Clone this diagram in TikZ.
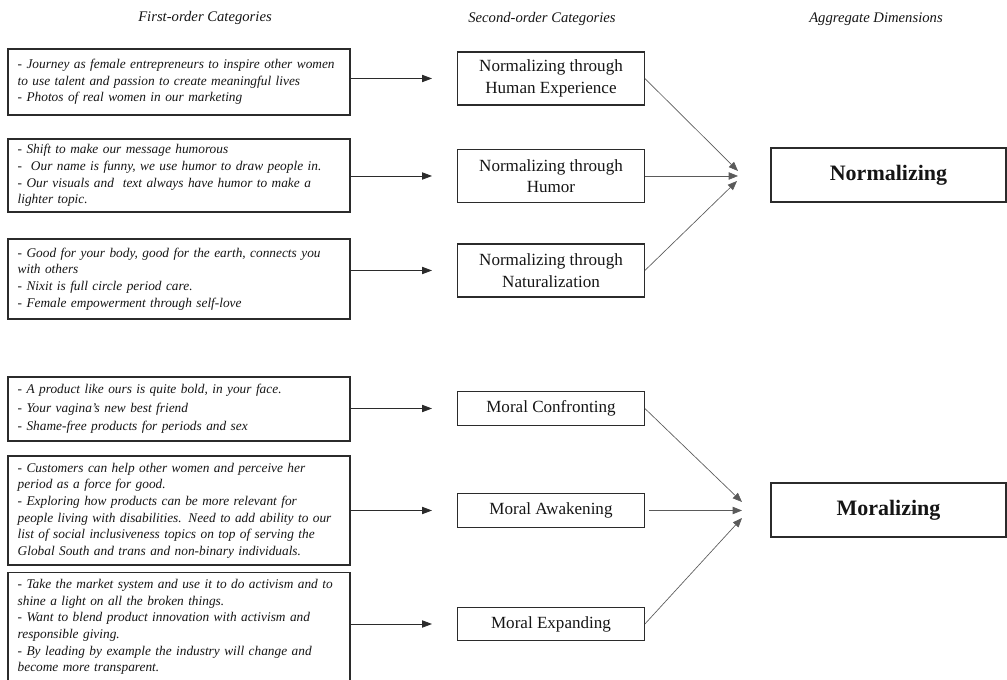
\documentclass[tikz,border=0pt]{standalone}
\usepackage{fontspec}
\setmainfont{Liberation Serif}
\usetikzlibrary{arrows.meta}
\definecolor{dimink}{HTML}{151515}
\definecolor{dimline}{HTML}{2B2B2B}
\definecolor{dimarrow}{HTML}{5A5A5A}

\begin{document}
\begin{tikzpicture}[
  x=0.75pt, y=-0.75pt,
  head/.style={font=\fontsize{11}{13}\selectfont\itshape, text=dimink},
  quote/.style={draw=dimline, line width=0.8pt, text=dimink, align=left,
    text width=242pt, inner xsep=7.25pt, inner ysep=0pt,
    font=\fontsize{10}{12.5}\selectfont\itshape},
  cat/.style={draw=dimline, line width=0.8pt, text=dimink, align=center,
    minimum width=140pt, minimum height=39.75pt, inner sep=2pt,
    font=\fontsize{12.8}{16}\selectfont},
  dimbox/.style={draw=dimline, line width=0.8pt, text=dimink,
    minimum width=176.25pt, minimum height=40.5pt,
    font=\fontsize{16.5}{20}\selectfont\bfseries},
  feed/.style={draw=dimline, line width=0.6pt, -{Triangle[length=7.5pt,width=5.5pt]}},
  merge/.style={draw=dimarrow, line width=0.5pt, -{Triangle[length=7pt,width=5.5pt]}},
]
\useasboundingbox (0,0) rectangle (1007,680);
\clip (0,0) rectangle (1007,680);

% ===== column headers =====
\node[head] (h1) at (205,18) {First-order Categories};
\node[head] (h2) at (542,19) {Second-order Categories};
\node[head] (h3) at (876,19) {Aggregate Dimensions};

% =========================================================
% NORMALIZING
% =========================================================
\node[quote, minimum height=49.5pt] (f1) at (179,82)
  {- Journey as female entrepreneurs to inspire other women\\
   to use talent and passion to create meaningful lives\\
   - Photos of real women in our marketing};
\node[quote, minimum height=54.75pt] (f2) at (179,175.5)
  {- Shift to make our message humorous\\
   - \ Our name is funny, we use humor to draw people in.\\
   - Our visuals and \ text always have humor to make a\\
   lighter topic.};
\node[quote, minimum height=60pt] (f3) at (179,279)
  {- Good for your body, good for the earth, connects you\\
   with others\\
   - Nixit is full circle period care.\\
   - Female empowerment through self-love};

\node[cat] (s1) at (551,78.5) {Normalizing through\\Human Experience};
\node[cat] (s2) at (551,176) {Normalizing through\\Humor};
\node[cat] (s3) at (551,270.5) {Normalizing through\\Naturalization};

\node[dimbox] (d1) at (888.5,175) {Normalizing};

% free ends
\coordinate (t1) at (432,78.5);
\coordinate (t2) at (432,176);
\coordinate (t3) at (432,270.5);
\coordinate (n1) at (738,171);
\coordinate (n2) at (738,176);
\coordinate (n3) at (737,181);

\draw[feed] (f1.east |- t1) -- (t1);
\draw[feed] (f2.east |- t2) -- (t2);
\draw[feed] (f3.east |- t3) -- (t3);
\draw[merge] (s1.east) -- (n1);
\draw[merge] (s2.east) -- (n2);
\draw[merge] (s3.east) -- (n3);

% =========================================================
% MORALIZING
% =========================================================
\node[quote, minimum height=48pt, font=\fontsize{10}{13.75}\selectfont\itshape] (f4) at (179,409)
  {- A product like ours is quite bold, in your face.\\
   - Your vagina's new best friend\\
   - Shame-free products for periods and sex};
\node[quote, minimum height=81.75pt] (f5) at (179,510.5)
  {- Customers can help other women and perceive her\\
   period as a force for good.\\
   - Exploring how products can be more relevant for\\
   people living with disabilities. Need to add ability to our\\
   list of social inclusiveness topics on top of serving the\\
   Global South and trans and non-binary individuals.};
\node[quote, inner ysep=5pt, anchor=north] (f6) at (179,572)
  {- Take the market system and use it to do activism and to\\
   shine a light on all the broken things.\\
   - Want to blend product innovation with activism and\\
   responsible giving.\\
   - By leading by example the industry will change and\\
   become more transparent.};

\node[cat, minimum height=25pt] (m1) at (551,408.5) {Moral Confronting};
\node[cat, minimum height=25pt] (m2) at (551,510.5) {Moral Awakening};
\node[cat, minimum height=25pt] (m3) at (551,624) {Moral Expanding};

\node[dimbox] (d2) at (888.5,510) {Moralizing};

% free ends
\coordinate (t4) at (432,408.5);
\coordinate (t5) at (432,510.5);
\coordinate (t6) at (432,624);
\coordinate (r1) at (742,502);
\coordinate (r2) at (742,510.5);
\coordinate (r3) at (742,518);

\draw[feed] (f4.east |- t4) -- (t4);
\draw[feed] (f5.east |- t5) -- (t5);
\draw[feed] (f6.east |- t6) -- (t6);
\draw[merge] (m1.east) -- (r1);
\draw[merge, shorten <=3pt] (m2.east) -- (r2);
\draw[merge] (m3.east) -- (r3);

\end{tikzpicture}
\end{document}
